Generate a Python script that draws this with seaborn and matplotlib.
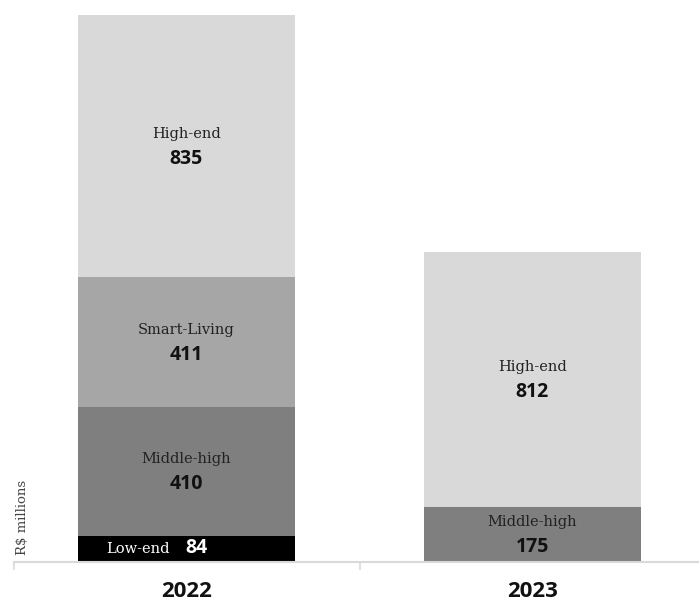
import matplotlib
matplotlib.use("Agg")
import matplotlib.pyplot as plt
from matplotlib.ticker import FixedLocator
import seaborn as sns
import pandas as pd

# Revenue by segment, R$ millions
years = ["2022", "2023"]
segments = ["Low-end", "Middle-high", "Smart-Living", "High-end"]
values_2022 = [84, 410, 411, 835]
values_2023 = [0, 175, 0, 812]
colors = {
    "Low-end": "#000000",
    "Middle-high": "#7f7f7f",
    "Smart-Living": "#a6a6a6",
    "High-end": "#d9d9d9",
}

sns.set_theme(style="white")
serif = ["DejaVu Serif"]
sans = ["Open Sans", "DejaVu Sans"]

fig = plt.figure(figsize=(6.99, 6.06), dpi=100)
ax = fig.add_axes([13.5 / 699, 44 / 606, 692 / 699, 547 / 606])

values = {"2022": values_2022, "2023": values_2023}
df = pd.DataFrame(
    [(y, s, v) for y in years for s, v in zip(segments, values[y])],
    columns=["year", "segment", "value"],
)
df["cum"] = df.groupby("year")["value"].cumsum()
df["bottom"] = df["cum"] - df["value"]

# Stack by overlaying cumulative totals, tallest first
for seg in reversed(segments):
    sub = df[df["segment"] == seg]
    sns.barplot(data=sub, x="year", y="cum", order=years, color=colors[seg],
                saturation=1, width=0.627, linewidth=0, ax=ax)

# Segment labels
for _, r in df.iterrows():
    if r["value"] <= 0:
        continue
    xi = years.index(r["year"])
    mid = r["bottom"] + r["value"] / 2
    if r["segment"] == "Low-end":
        ax.annotate(r["segment"], (xi, mid), xytext=(-12, 0), textcoords="offset points",
                    ha="right", va="center", fontsize=10.5, family=serif, color="white")
        ax.annotate(f"{r['value']:.0f}", (xi, mid), xytext=(-1, 0.5), textcoords="offset points",
                    ha="left", va="center", fontsize=14, family=sans, fontweight="bold",
                    color="white")
    else:
        ax.annotate(r["segment"], (xi, mid), xytext=(0, 9), textcoords="offset points",
                    ha="center", va="center", fontsize=10.5, family=serif, color="#222222")
        ax.annotate(f"{r['value']:.0f}", (xi, mid), xytext=(0, -9), textcoords="offset points",
                    ha="center", va="center", fontsize=14, family=sans, fontweight="bold",
                    color="#111111")

ax.set_xlim(-0.5, 1.5)
ax.set_ylim(0, sum(values_2022))
ax.set_xlabel("")
ax.set_ylabel("")
ax.set_yticks([])
for side in ["left", "right", "top"]:
    ax.spines[side].set_visible(False)
ax.spines["bottom"].set_color("#d9d9d9")
ax.spines["bottom"].set_linewidth(1.5)

ax.set_xticks(range(len(years)))
ax.set_xticklabels(years, fontsize=16, fontweight="bold", family=sans, color="#111111")
ax.tick_params(axis="x", which="major", length=0, pad=14)
ax.xaxis.set_minor_locator(FixedLocator([-0.5, 0.5, 1.5]))
ax.tick_params(axis="x", which="minor", bottom=True, length=6, width=1.2, color="#d9d9d9")

fig.text(22.5 / 699, (606 - 555) / 606, "R$ millions", rotation=90, ha="center", va="bottom",
         fontsize=9.5, family=serif, color="#444444")

fig.savefig("out.png", dpi=100)
